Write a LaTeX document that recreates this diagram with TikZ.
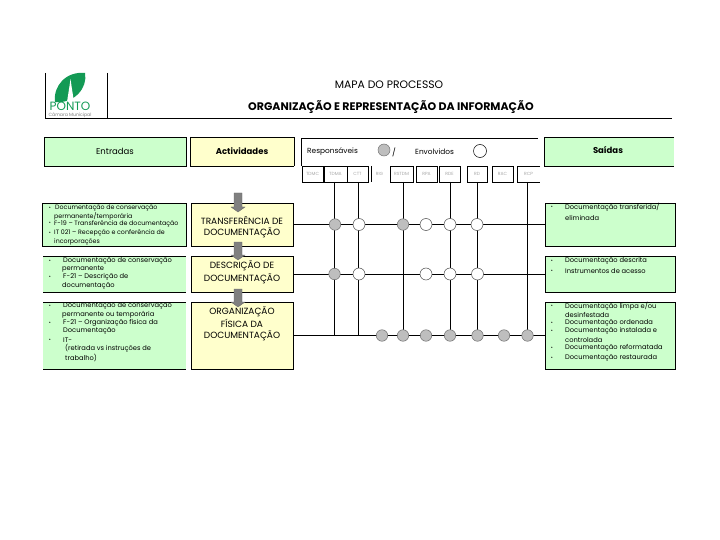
\documentclass[tikz,border=0pt]{standalone}
\usepackage{fontspec}
\setmainfont{Poppins}
\usetikzlibrary{backgrounds}
\definecolor{gb}{HTML}{CCFFCC}
\definecolor{yb}{HTML}{FFFFCC}
\definecolor{gc}{HTML}{BEBEBE}
\definecolor{logog}{HTML}{139A55}
\newcommand{\flowarrow}[2]{\filldraw[fill=black!50,draw=black!60,line width=0.3pt]
  (234,#1) -- (242,#1) -- (242,#2-5) -- (245,#2-5) -- (238,#2) -- (231,#2-5) -- (234,#2-5) -- cycle;}
\tikzset{
 lw/.style={line width=0.9pt,draw=black},
 cell/.style={inner sep=0,outer sep=0,line width=0.9pt},
 grn/.style={cell,fill=gb},
 yel/.style={cell,fill=yb},
 txt/.style={inner sep=0,anchor=west,font=\fontsize{6.7}{7}\selectfont},
 txts/.style={inner sep=0,anchor=west,font=\fontsize{6.3}{7}\selectfont},
 leg/.style={inner sep=0,anchor=west,font=\fontsize{7.4}{8}\selectfont},
 bul/.style={inner sep=0,font=\fontsize{5}{6}\selectfont},
 head/.style={inner sep=0,font=\fontsize{8.5}{10}\selectfont\bfseries},
 act/.style={inner sep=0,font=\fontsize{9}{11}\selectfont},
 resp/.style={cell,draw=black,minimum height=16pt,font=\fontsize{4.5}{5}\selectfont,text=black!35},
 full/.style={circle,inner sep=0,outer sep=0,minimum size=11.5pt,fill=gc,draw=black!55,line width=0.5pt},
 free/.style={circle,inner sep=0,outer sep=0,minimum size=12pt,fill=white,draw=black!70,line width=0.5pt},
}
\begin{document}
\begin{tikzpicture}[x=1pt,y=-1pt]
\useasboundingbox (0,0) rectangle (720,540);
% logo
\fill[logog] (55,102) .. controls (53,86) and (66,71) .. (85,73) .. controls (88,88) and (74,104) .. (55,102);
\fill[white] (67,102) -- (69.5,86) -- (70.5,79) -- (71.5,86) -- (74,102) -- cycle;
\node[inner sep=0,text=logog,font=\fontsize{12}{13}\selectfont] (logoname) at (70,106.5) {PONTO};
\node[inner sep=0,text=black!50,font=\fontsize{4.6}{5}\selectfont] (logosub) at (70,115.5) {Câmara Municipal};
\coordinate (lt) at (45,73); \coordinate (lb) at (45,118); \coordinate (mt) at (107,73); \coordinate (mb) at (107,118); \coordinate (re) at (672,118);
\draw[lw,line width=0.7pt] (lt) -- (lb) -- (re) (mt) -- (mb);
% titles
\node[inner sep=0,font=\fontsize{10.8}{12}\selectfont] (t1) at (389,85) {MAPA DO PROCESSO};
\node[inner sep=0,font=\fontsize{11}{13}\selectfont\bfseries] (t2) at (391,107.5) {ORGANIZAÇÃO E REPRESENTAÇÃO DA INFORMAÇÃO};
% headers
\node[grn,draw=black,minimum width=142pt,minimum height=29pt,anchor=north west] (hin) at (44,137) {};
\node[head,font=\fontsize{8.5}{10}\selectfont] at (115,151) (hint) {Entradas};
\node[yel,minimum width=104pt,minimum height=29pt,anchor=north west] (hact) at (190,137) {};
\draw[lw] (hact.north west) -- (hact.north east) -- (hact.south east) (hact.north west) -- (hact.south west);
\draw[lw,line width=0.6pt] (hact.south west) -- (hact.south east);
\node[head] at (242,151) (hactt) {Actividades};
\node[grn,minimum width=130pt,minimum height=29pt,anchor=north west] (hout) at (544,137) {};
\draw[lw] (hout.north east) -- (hout.north west) -- (hout.south west) -- (hout.south east);
\node[head] at (608,150) (houtt) {Saídas};
% responsibility legend
\coordinate (ra) at (301,166); \coordinate (rb) at (301,138); \coordinate (rc) at (538,138);
\draw[lw] (ra) -- (rb) -- (rc);
\node[leg] (lr) at (307,152) {Responsáveis};
\node[full,minimum size=12pt] (cr) at (384,150) {};
\node[inner sep=0,font=\fontsize{8}{9}\selectfont] (sl) at (394,152) {/};
\node[leg] (le) at (415,152) {Envolvidos};
\node[free,minimum size=13pt,draw=black] (ce) at (480,151) {};
% role boxes
\node[resp,minimum width=21pt,anchor=north west] (r1) at (302,166) {TDMC};
\node[resp,minimum width=23pt,anchor=north west] (r2) at (324,166) {TDMA};
\node[resp,minimum width=21pt,anchor=north west] (r3) at (347,166) {CTT};
\node[cell,font=\fontsize{4.5}{5}\selectfont,text=black!35,minimum width=17pt,minimum height=16pt,anchor=north west] (r4) at (371,166) {RIG};
\draw[lw] (r4.north west) -- (r4.south west);
\node[resp,minimum width=23pt,anchor=north west] (r5) at (390,166) {RSTDM};
\node[resp,minimum width=21pt,anchor=north west] (r6) at (416,166) {RPA};
\node[resp,minimum width=21pt,anchor=north west] (r7) at (439,166) {RDE};
\node[resp,minimum width=20pt,anchor=north west] (r8) at (467,166) {RD};
\node[resp,minimum width=21pt,anchor=north west] (r9) at (492,166) {RAC};
\node[cell,font=\fontsize{4.5}{5}\selectfont,text=black!35,minimum width=23pt,minimum height=16pt,anchor=north west] (r10) at (517,166) {RCP};
\draw[lw] (r10.north east) -- (r10.north west) -- (r10.south west) -- (r10.south east);
% activity boxes
\node[yel,draw=black,minimum width=102pt,minimum height=43pt,anchor=north west] (a1) at (191,203) {};
\node[yel,draw=black,minimum width=102pt,minimum height=36pt,anchor=north west] (a2) at (191,256) {};
\node[yel,draw=black,minimum width=102pt,minimum height=67pt,anchor=north west] (a3) at (191,302) {};
\node[act] (a1a) at (242,220) {TRANSFERÊNCIA DE};
\node[act] (a1b) at (242,233) {DOCUMENTAÇÃO};
\node[act] (a2a) at (242,266) {DESCRIÇÃO DE};
\node[act] (a2b) at (242,279) {DOCUMENTAÇÃO};
\node[act] (a3a) at (242,312) {ORGANIZAÇÃO};
\node[act] (a3b) at (242,323) {FÍSICA DA};
\node[act] (a3c) at (242,336) {DOCUMENTAÇÃO};
% flow arrows
\flowarrow{193}{212}
\flowarrow{242}{260}
\flowarrow{289}{307}
% input boxes
\node[grn,draw=black,minimum width=144pt,minimum height=43pt,anchor=north west] (i1) at (42,203) {};
\node[grn,minimum width=143pt,minimum height=36pt,anchor=north west] (i2) at (43,256) {};
\draw[lw] (i2.north west) -- (i2.north east) (i2.south west) -- (i2.south east);
\node[grn,minimum width=143pt,minimum height=67pt,anchor=north west] (i3) at (43,302) {};
\draw[lw] (i3.north west) -- (i3.north east) (i3.south west) -- (i3.south east);
\node[bul] (b11) at (50,208) {•};
\node[txts] (i11) at (55,208) {Documentação de conservação};
\node[txts] (i12) at (54,216) {permanente/temporária};
\node[bul] (b12) at (50,223) {•};
\node[txts] (i13) at (54,223.5) {F-19 – Transferência de documentação};
\node[bul] (b13) at (50,233) {•};
\node[txts] (i14) at (54,233) {IT 021 – Recepção e conferência de};
\node[txts] (i15) at (54,242) {incorporações};
\node[bul] (b21) at (50,261) {•};
\node[txt] (i21) at (63,261) {Documentação de conservação};
\node[txt] (i22) at (62,269) {permanente};
\node[bul] (b22) at (50,277) {•};
\node[txt] (i23) at (63,277) {F-21 – Descrição de};
\node[txt] (i24) at (62,286) {documentação};
\node[bul] (b31) at (50,306) {•};
\node[txt] (i31) at (63,306) {Documentação de conservação};
\node[txt] (i32) at (62,314.5) {permanente ou temporária};
\node[bul] (b32) at (50,323) {•};
\node[txt] (i33) at (63,323) {F-21 – Organização física da};
\node[txt] (i34) at (63,331) {Documentação};
\node[bul] (b33) at (50,340) {•};
\node[txt] (i35) at (63,340) {IT-};
\node[txt] (i36) at (65,348) {(retirada vs instruções de};
\node[txt] (i37) at (65,358) {trabalho)};
% output boxes
\node[grn,draw=black,minimum width=130pt,minimum height=43pt,anchor=north west] (o1) at (545,203) {};
\node[grn,draw=black,minimum width=130pt,minimum height=36pt,anchor=north west] (o2) at (545,256) {};
\node[grn,draw=black,minimum width=130pt,minimum height=67pt,anchor=north west] (o3) at (545,302) {};
\node[bul] (q11) at (552,207) {•};
\node[txt] (o11) at (565,207) {Documentação transferida/};
\node[txt] (o12) at (565,218) {eliminada};
\node[bul] (q21) at (552,261) {•};
\node[txt] (o21) at (565,261) {Documentação descrita};
\node[bul] (q22) at (552,271) {•};
\node[txt] (o22) at (565,271) {Instrumentos de acesso};
\node[bul] (q31) at (552,306) {•};
\node[txt] (o31) at (565,306) {Documentação limpa e/ou};
\node[txt] (o32) at (565,315) {desinfestada};
\node[bul] (q32) at (552,323) {•};
\node[txt] (o33) at (565,323) {Documentação ordenada};
\node[bul] (q33) at (552,331) {•};
\node[txt] (o34) at (565,331) {Documentação instalada e};
\node[txt] (o35) at (565,340) {controlada};
\node[bul] (q34) at (552,348) {•};
\node[txt] (o36) at (565,348) {Documentação reformatada};
\node[bul] (q35) at (552,358) {•};
\node[txt] (o37) at (565,358) {Documentação restaurada};
% matrix circles
\node[full] (c11) at (335,224.5) {};
\node[free] (c12) at (359,224.5) {};
\node[full] (c13) at (403,224.5) {};
\node[free] (c14) at (426,224.5) {};
\node[free] (c15) at (450,224.5) {};
\node[free] (c16) at (477,224.5) {};
\node[full] (c21) at (334.5,274) {};
\node[free] (c22) at (359,274) {};
\node[free] (c24) at (426,274) {};
\node[free] (c25) at (450,274) {};
\node[free] (c26) at (477.5,274) {};
\coordinate (c31) at (334.5,335.5);
\coordinate (c32) at (358.5,335.5);
\node[full] (c30) at (382,335.5) {};
\node[full] (c33) at (403,335.5) {};
\node[full] (c34) at (426,335.5) {};
\node[full] (c35) at (450,335.5) {};
\node[full] (c36) at (477.5,335.5) {};
\node[full] (c37) at (504,335.5) {};
\node[full] (c38) at (527.5,335.5) {};
\begin{scope}[on background layer]
\draw[lw] (a1) -- (o1);
\draw[lw] (a2) -- (o2);
\draw[lw] (a3) -- (o3);
\draw[lw] (r2.south -| c31) -- (c31);
\draw[lw] (r3.south -| c32) -- (c32);
\draw[lw] (r5.south -| c33) -- (c33);
\draw[lw] (r7.south -| c35) -- (c35);
\draw[lw] (r8.south -| c36) -- (c36);
\draw[lw] (r10.south -| c38) -- (c38);
\end{scope}
\end{tikzpicture}
\end{document}
